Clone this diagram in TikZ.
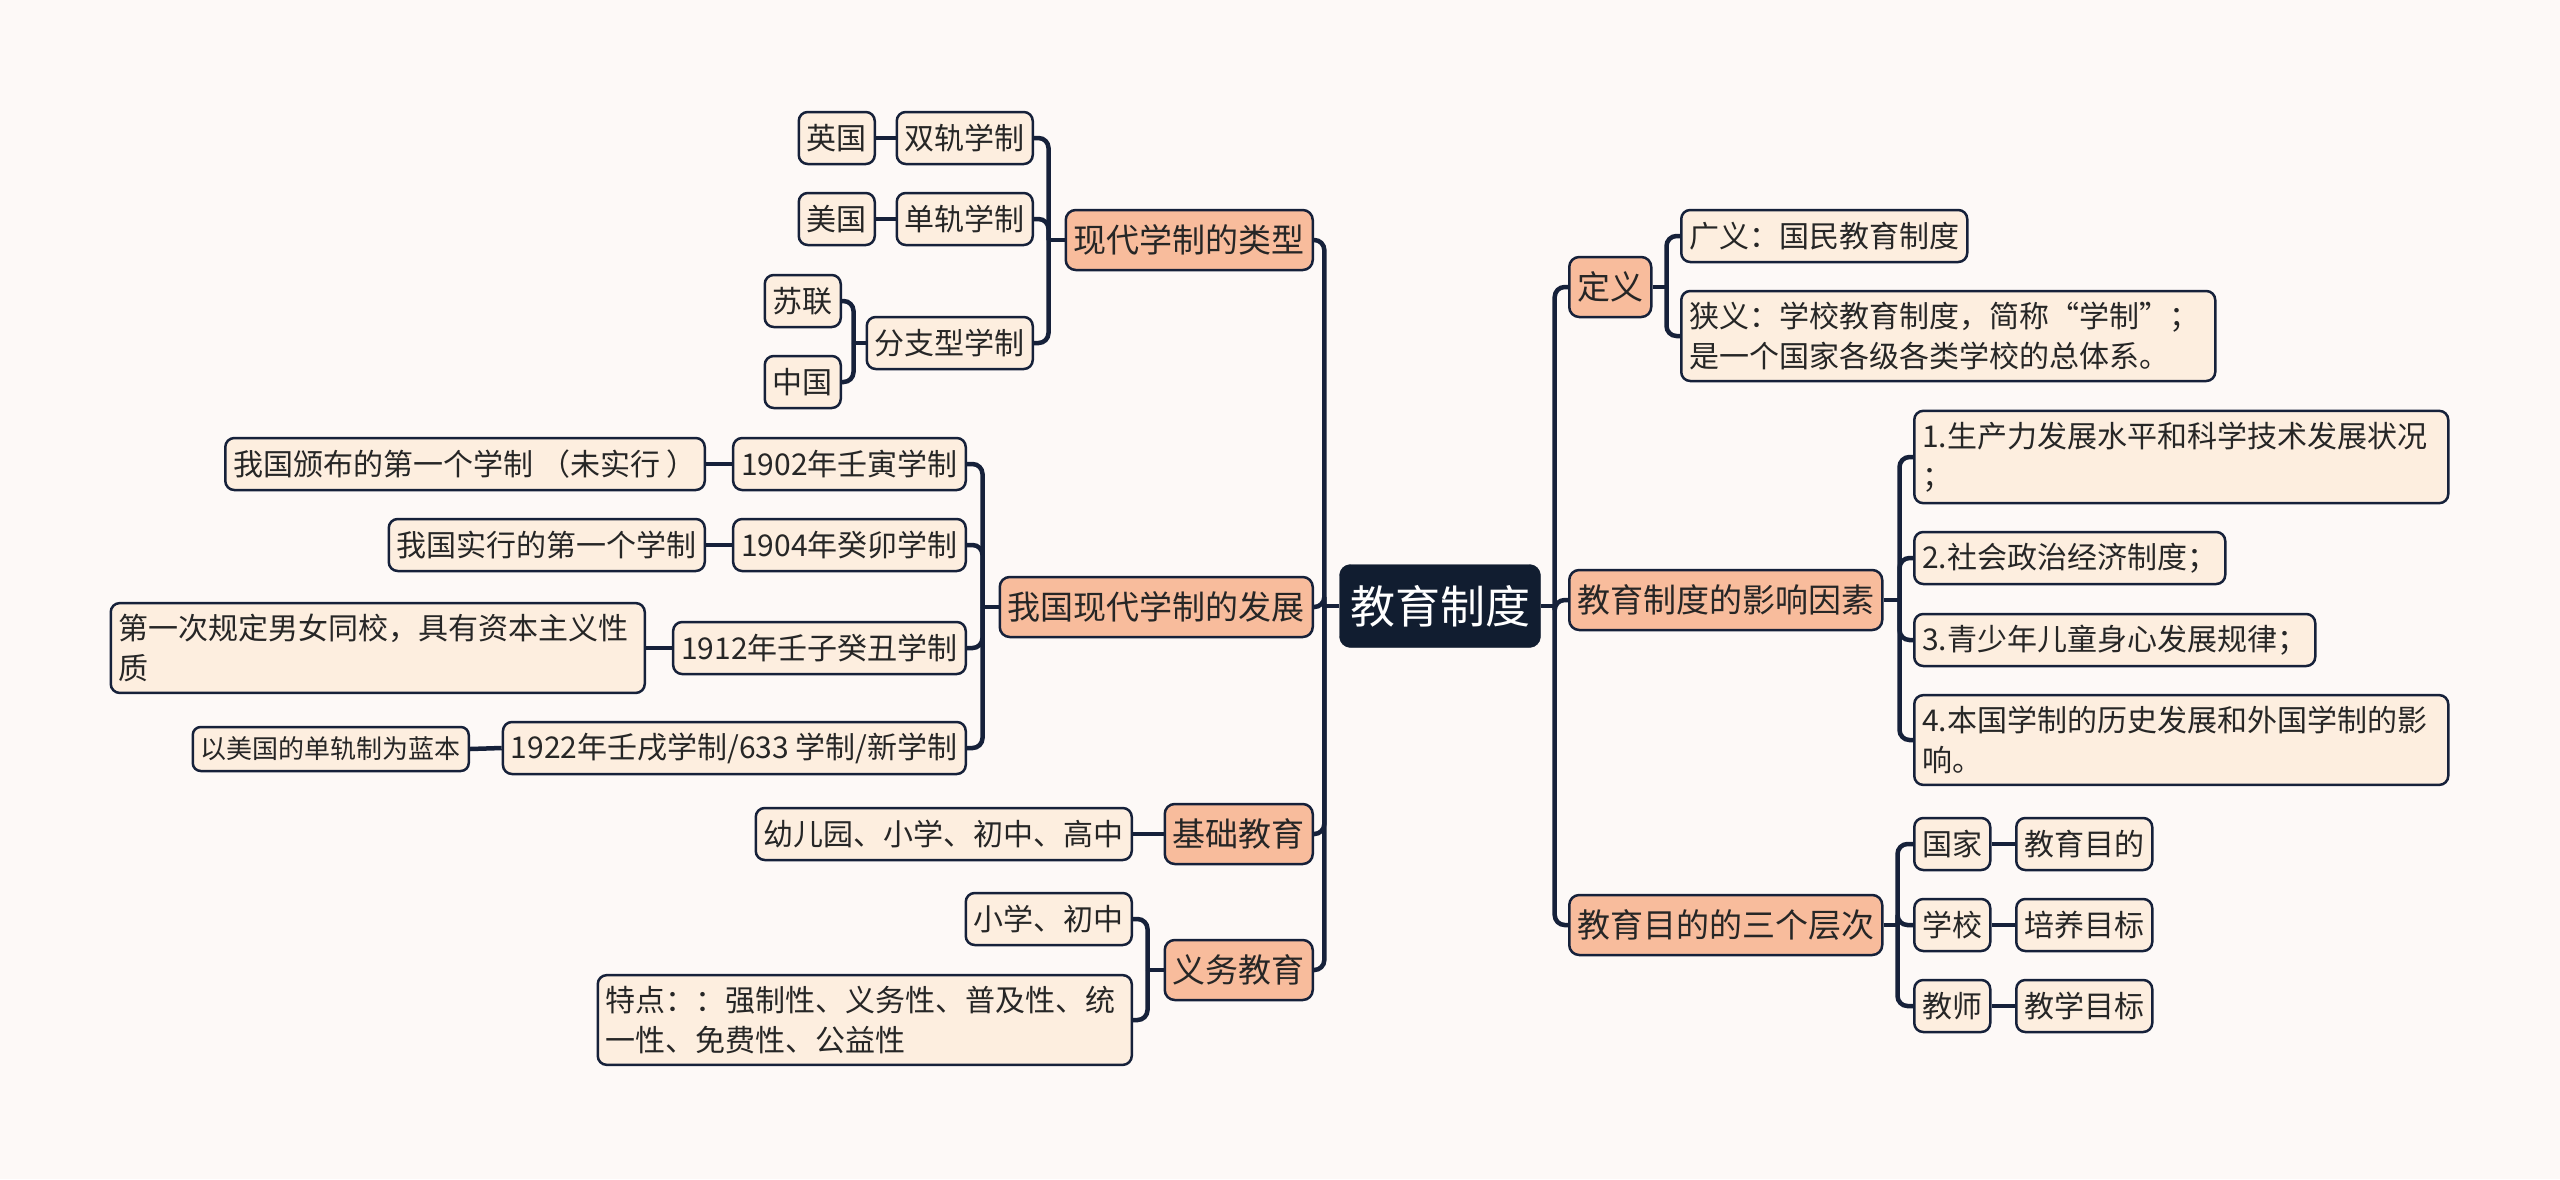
\documentclass[tikz,border=0pt]{standalone}
\usepackage{fontspec}
\setmainfont{Noto Sans CJK SC}
\definecolor{bgc}{HTML}{FDF9F7}
\definecolor{leaffill}{HTML}{FDEEDF}
\definecolor{lonefill}{HTML}{F8BC9C}
\definecolor{rootfill}{HTML}{111D30}
\definecolor{linec}{HTML}{16213A}
\definecolor{txt}{HTML}{262626}
\pgfdeclarelayer{back}
\pgfdeclarelayer{lines}
\pgfsetlayers{back,lines,main}
\begin{document}
\begin{tikzpicture}[x=1pt,y=-1pt,
  base/.style={draw=linec, line width=2.5pt, text=txt, inner xsep=8pt, inner ysep=0pt},
  rootbox/.style={fill=rootfill, draw=rootfill, text=white, rounded corners=11pt,
     font=\fontsize{45}{54}\selectfont, minimum width=201pt, minimum height=83pt},
  lone/.style={base, fill=lonefill, rounded corners=10pt, font=\fontsize{33}{40}\selectfont, minimum height=60pt},
  leaf/.style={base, fill=leaffill, rounded corners=9pt, font=\fontsize{30}{40}\selectfont, minimum height=52pt},
  smallleaf/.style={base, fill=leaffill, rounded corners=8pt, font=\fontsize{26}{32}\selectfont, minimum height=44pt},
  multi/.style={leaf, align=left, text width=#1, inner ysep=11pt},
  conn/.style={draw=linec, line width=4.5pt, rounded corners=10pt},
]
\begin{pgfonlayer}{back}
\path[use as bounding box, fill=bgc] (0,0) rectangle (2560,1179);
\end{pgfonlayer}

% root
\node[rootbox] (root) at (1440,606) {教育制度};

% right side
\node[lone, anchor=west] (def) at (1568,287) {定义};
\node[leaf, anchor=west] (broad) at (1680,236) {广义：国民教育制度};
\node[multi=518pt, anchor=west] (narrow) at (1680,336) {狭义：学校教育制度，简称“学制”；\\是一个国家各级各类学校的总体系。};
\node[lone, anchor=west] (infl) at (1568,600) {教育制度的影响因素};
\node[multi=518pt, anchor=west] (f1) at (1913,457) {1.生产力发展水平和科学技术发展状况\\；};
\node[leaf, anchor=west] (f2) at (1913,558) {2.社会政治经济制度；};
\node[leaf, anchor=west] (f3) at (1913,640) {3.青少年儿童身心发展规律；};
\node[multi=518pt, anchor=west] (f4) at (1913,740) {4.本国学制的历史发展和外国学制的影\\响。};
\node[lone, anchor=west] (aim) at (1568,925) {教育目的的三个层次};
\node[leaf, anchor=west] (state) at (1913,844) {国家};
\node[leaf, anchor=west] (school) at (1913,925) {学校};
\node[leaf, anchor=west] (teacher) at (1913,1006) {教师};
\node[leaf, anchor=west] (g1) at (2015,844) {教育目的};
\node[leaf, anchor=west] (g2) at (2015,925) {培养目标};
\node[leaf, anchor=west] (g3) at (2015,1006) {教学目标};

% left side
\node[lone, anchor=east] (types) at (1314,240) {现代学制的类型};
\node[leaf, anchor=east] (dual) at (1034,138) {双轨学制};
\node[leaf, anchor=east] (single) at (1034,219) {单轨学制};
\node[leaf, anchor=east] (branch) at (1034,343) {分支型学制};
\node[leaf, anchor=east] (uk) at (876,138) {英国};
\node[leaf, anchor=east] (us) at (876,219) {美国};
\node[leaf, anchor=east] (su) at (842,301) {苏联};
\node[leaf, anchor=east] (cn) at (842,382) {中国};
\node[lone, anchor=east] (dev) at (1314,607) {我国现代学制的发展};
\node[leaf, anchor=east] (y02) at (967,464) {1902年壬寅学制};
\node[leaf, anchor=east] (n02) at (706,464) {我国颁布的第一个学制 （未实行 ）};
\node[leaf, anchor=east] (y04) at (967,545) {1904年癸卯学制};
\node[leaf, anchor=east] (n04) at (706,545) {我国实行的第一个学制};
\node[leaf, anchor=east] (y12) at (967,648) {1912年壬子癸丑学制};
\node[multi=518pt, anchor=east] (n12) at (646,648) {第一次规定男女同校，具有资本主义性\\质};
\node[leaf, anchor=east] (y22) at (967,748) {1922年壬戌学制/633 学制/新学制};
\node[smallleaf, anchor=east] (n22) at (470,749) {以美国的单轨制为蓝本};
\node[lone, anchor=east] (basic) at (1314,834) {基础教育};
\node[leaf, anchor=east] (kg) at (1133,834) {幼儿园、小学、初中、高中};
\node[lone, anchor=east] (comp) at (1314,970) {义务教育};
\node[leaf, anchor=east] (ps) at (1133,919) {小学、初中};
\node[multi=518pt, anchor=east] (feat) at (1133,1020) {特点：：强制性、义务性、普及性、统\\一性、免费性、公益性};

\begin{pgfonlayer}{lines}
% root to level 1
\draw[conn] (root.west) -- ++(-15,0);
\foreach \c in {types,dev,basic,comp} \draw[conn] (root.west) ++(-15,0) |- (\c.east);
\draw[conn] (root.east) -- ++(14,0);
\foreach \c in {def,infl,aim} \draw[conn] (root.east) ++(14,0) |- (\c.west);
% types
\draw[conn] (types.west) -- ++(-16,0);
\foreach \c in {dual,single,branch} \draw[conn] (types.west) ++(-16,0) |- (\c.east);
\draw[conn] (dual.west) -- (uk.east);
\draw[conn] (single.west) -- (us.east);
\draw[conn] (branch.west) -- ++(-12,0);
\foreach \c in {su,cn} \draw[conn] (branch.west) ++(-12,0) |- (\c.east);
% dev
\draw[conn] (dev.west) -- ++(-16,0);
\foreach \c in {y02,y04,y12,y22} \draw[conn] (dev.west) ++(-16,0) |- (\c.east);
\draw[conn] (y02.west) -- (n02.east);
\draw[conn] (y04.west) -- (n04.east);
\draw[conn] (y12.west) -- (n12.east);
\draw[conn] (y22.west) -- (n22.east);
% basic
\draw[conn] (basic.west) -- (kg.east);
% comp
\draw[conn] (comp.west) -- ++(-16,0);
\foreach \c in {ps,feat} \draw[conn] (comp.west) ++(-16,0) |- (\c.east);
% def
\draw[conn] (def.east) -- ++(14,0);
\foreach \c in {broad,narrow} \draw[conn] (def.east) ++(14,0) |- (\c.west);
% infl
\draw[conn] (infl.east) -- ++(16,0);
\foreach \c in {f1,f2,f3,f4} \draw[conn] (infl.east) ++(16,0) |- (\c.west);
% aim
\draw[conn] (aim.east) -- ++(14,0);
\foreach \c in {state,school,teacher} \draw[conn] (aim.east) ++(14,0) |- (\c.west);
\draw[conn] (state.east) -- (g1.west);
\draw[conn] (school.east) -- (g2.west);
\draw[conn] (teacher.east) -- (g3.west);
\end{pgfonlayer}
\end{tikzpicture}
\end{document}
